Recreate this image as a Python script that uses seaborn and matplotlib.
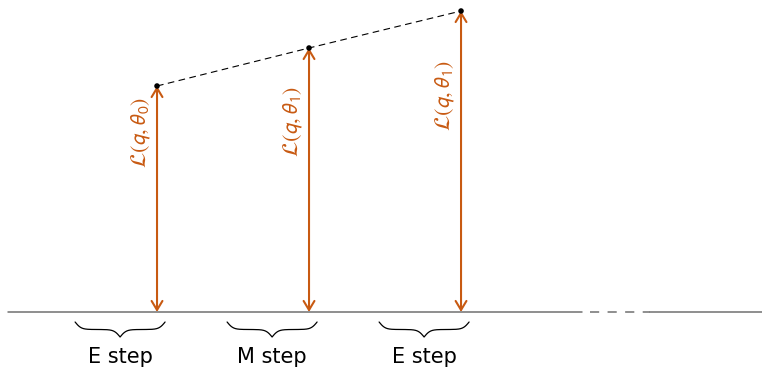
# EM algorithm sketch: lower bound rising with each E / M step

import numpy as np
import matplotlib.pyplot as plt
import seaborn as sns

# data
steps = [1, 2, 3]
lower_bound = [2.26, 2.64, 3.01]
bound_labels = [r'$\mathcal{L}(q,\theta_0)$', r'$\mathcal{L}(q,\theta_1)$', r'$\mathcal{L}(q,\theta_1)$']
step_names = ['E step', 'M step', 'E step']

# layout
label_y = [1.80, 1.91, 2.17]
orange = '#c85a12'
grey = '#707070'

sns.set_style('white')
plt.rcParams['font.family'] = ['DejaVu Sans']
plt.rcParams['mathtext.fontset'] = 'stixsans'
plt.rcParams['text.color'] = 'black'

fig = plt.figure(figsize=(7.62, 3.71), dpi=100)
ax = fig.add_axes([0, 0, 1, 1])
ax.set_xlim(-0.033, 4.98)
ax.set_ylim(-0.59, 3.12)
ax.axis('off')


# curly brace pointing down, drawn in data units
def brace(ax, xc, width, ytop, height) :
    half = width / 2
    t = np.linspace(0, half, 200)
    beta = 50
    y = 1 / (1 + np.exp(-beta * (t - t[0]))) + 1 / (1 + np.exp(-beta * (t - t[-1])))
    y = np.concatenate([y, y[-2::-1]])
    x = np.concatenate([t, width - t[-2::-1]]) + xc - half
    y = ytop - (y - 0.5) * height
    ax.plot(x, y, color='black', lw=0.9)


# baseline with a dashed gap near the right end
ax.axhline(0, xmin=0.01, xmax=0.764, color=grey, lw=1.1)
ax.axhline(0, xmin=0.774, xmax=0.853, color=grey, lw=1.1, linestyle=(0, (6, 5.5)))
ax.axhline(0, xmin=0.853, xmax=1, color=grey, lw=1.1)

# dashed line through the bound values and the dots
sns.lineplot(x=steps, y=lower_bound, color='black', lw=0.8, linestyle=(0, (6, 4)), ax=ax)
sns.scatterplot(x=steps, y=lower_bound, color='black', s=16, zorder=5, edgecolor='none', ax=ax)

for s, v, lab, ly, name in zip(steps, lower_bound, bound_labels, label_y, step_names) :
    ax.annotate('', xy=(s, v), xytext=(s, 0),
                arrowprops=dict(arrowstyle='<->,head_length=0.5,head_width=0.3', color=orange,
                                lw=1.5, shrinkA=0, shrinkB=0, mutation_scale=13))
    ax.text(s - 0.105, ly, lab, rotation=90, color=orange, fontsize=16, ha='center', va='center')
    brace(ax, s - 0.243, 0.592, -0.10, 0.15)
    ax.text(s - 0.243, -0.45, name, fontsize=15, ha='center', va='center')

plt.savefig('out.png', dpi=100)
